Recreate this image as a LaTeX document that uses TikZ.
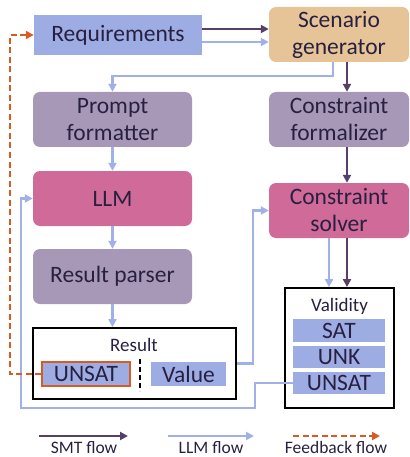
\documentclass[tikz,border=0pt]{standalone}
\usepackage{fontspec}
\setmainfont{Carlito}
\usetikzlibrary{arrows.meta, positioning, calc}
\definecolor{mytext}{RGB}{40,32,64}
\definecolor{mysmt}{RGB}{84,64,104}
\definecolor{myllm}{RGB}{160,176,232}
\definecolor{myfeed}{RGB}{214,92,36}
\definecolor{hdrblue}{RGB}{158,172,228}
\definecolor{hdrtan}{RGB}{230,196,152}
\definecolor{hdrgrey}{RGB}{168,152,184}
\definecolor{hdrpink}{RGB}{208,106,152}
\tikzset{
  box/.style={rectangle, inner sep=0pt, align=center, text=mytext,
    font=\fontsize{23.5}{27}\selectfont, rounded corners=7pt},
  reqbox/.style={box, fill=hdrblue, rounded corners=0pt},
  genbox/.style={box, fill=hdrtan},
  fmtbox/.style={box, fill=hdrgrey},
  llmbox/.style={box, fill=hdrpink},
  tagbox/.style={box, fill=hdrblue, rounded corners=0pt},
  frame/.style={draw=black, line width=1.8pt},
  smt/.style={-{Triangle[length=8pt,width=8pt]}, line width=2.4pt, color=mysmt},
  llm/.style={-{Triangle[length=8pt,width=8pt]}, line width=2.4pt, color=myllm},
  feedback/.style={-{Triangle[length=8pt,width=8pt]}, line width=2.2pt,
    color=myfeed, dash pattern=on 6pt off 3.5pt},
  small/.style={font=\fontsize{19}{20}\selectfont, text=mytext},
  legend/.style={font=\fontsize{17.5}{18}\selectfont, text=mytext, anchor=base}
}
\begin{document}
\begin{tikzpicture}[x=1pt, y=-1pt]
  \useasboundingbox (0,0) rectangle (409,457);

  % Left column (LLM side)
  \node[reqbox, minimum width=168pt, minimum height=40pt] (req) at (118,35) {Requirements};
  \node[fmtbox, minimum width=159pt, minimum height=55pt, text width=150pt] (prompt) at (112.5,119.5) {Prompt\\formatter};
  \node[llmbox, minimum width=159pt, minimum height=55pt] (llm) at (112.5,198.5) {LLM};
  \node[fmtbox, minimum width=159pt, minimum height=55pt] (parser) at (112.5,276.5) {Result parser};

  % Right column (SMT side)
  \node[genbox, minimum width=140pt, minimum height=55pt, text width=135pt] (scen) at (339,34.5) {Scenario\\generator};
  \node[fmtbox, minimum width=140pt, minimum height=55pt, text width=135pt] (formal) at (339,119.5) {Constraint\\formalizer};
  \node[llmbox, minimum width=140pt, minimum height=55pt, text width=135pt] (solver) at (339,210.5) {Constraint\\solver};

  % Result box
  \node[frame, minimum width=203pt, minimum height=71pt, inner sep=0pt] (result) at (134.5,363.5) {};
  \node[small] (resultlbl) at (134,345) {Result};
  \node[tagbox, minimum width=88pt, minimum height=24pt, draw=myfeed, line width=1.4pt] (unsatR) at (86,374) {UNSAT};
  \node[tagbox, minimum width=75pt, minimum height=24pt] (value) at (188.5,374) {Value};
  \draw[line width=1.4pt, dashed, dash pattern=on 5pt off 3pt] (140,359) -- (140,391);

  % Validity box
  \node[frame, minimum width=109pt, minimum height=120pt, inner sep=0pt] (valid) at (339.5,348) {};
  \node[small] (validlbl) at (339.5,306) {Validity};
  \node[tagbox, minimum width=92pt, minimum height=23pt] (sat) at (339,330.5) {SAT};
  \node[tagbox, minimum width=92pt, minimum height=22pt] (unk) at (339,357) {UNK};
  \node[tagbox, minimum width=92pt, minimum height=22pt] (unsatV) at (339,383) {UNSAT};

  % SMT flow
  \draw[smt] ([yshift=6pt]req.east) -- ([yshift=6pt]req.east -| scen.west);
  \draw[smt] ([xshift=8pt]scen.south) -- ([xshift=8pt]formal.north);
  \draw[smt] ([xshift=8pt]formal.south) -- ([xshift=8pt]solver.north);
  \draw[smt] ([xshift=8pt]solver.south) -- ([xshift=8pt]solver.south |- valid.north);

  % LLM flow
  \draw[llm] ([yshift=-7pt]req.east) -- ([yshift=-7pt]req.east -| scen.west);
  \draw[llm] ([xshift=-6pt]scen.south) -- ++(0,14) -| (prompt.north);
  \draw[llm] (prompt.south) -- (llm.north);
  \draw[llm] (llm.south) -- (parser.north);
  \draw[llm] (parser.south) -- (parser.south |- result.north);
  \draw[llm] ([xshift=-10pt]solver.south) -- ([xshift=-10pt]solver.south |- valid.north);
  \draw[llm] (result.east) -- ++(16,0) |- (solver.west);
  \coordinate (loopA) at (255,408);
  \coordinate (loopB) at (21,408);
  \draw[llm] (unsatV.west) -| (loopA) -- (loopB) |- (llm.west);

  % Feedback flow
  \draw[feedback] (unsatR.west) -- ++(-31,0) |- (req.west);

  % Legend
  \draw[smt] (39,436) -- (128,436);
  \draw[llm] (168,436) -- (254,436);
  \draw[feedback] (293,436) -- (380,436);
  \node[legend] (smtlbl) at (84,453.5) {SMT flow};
  \node[legend] (llmlbl) at (211,453.5) {LLM flow};
  \node[legend] (feedlbl) at (336,453.5) {Feedback flow};
\end{tikzpicture}
\end{document}
